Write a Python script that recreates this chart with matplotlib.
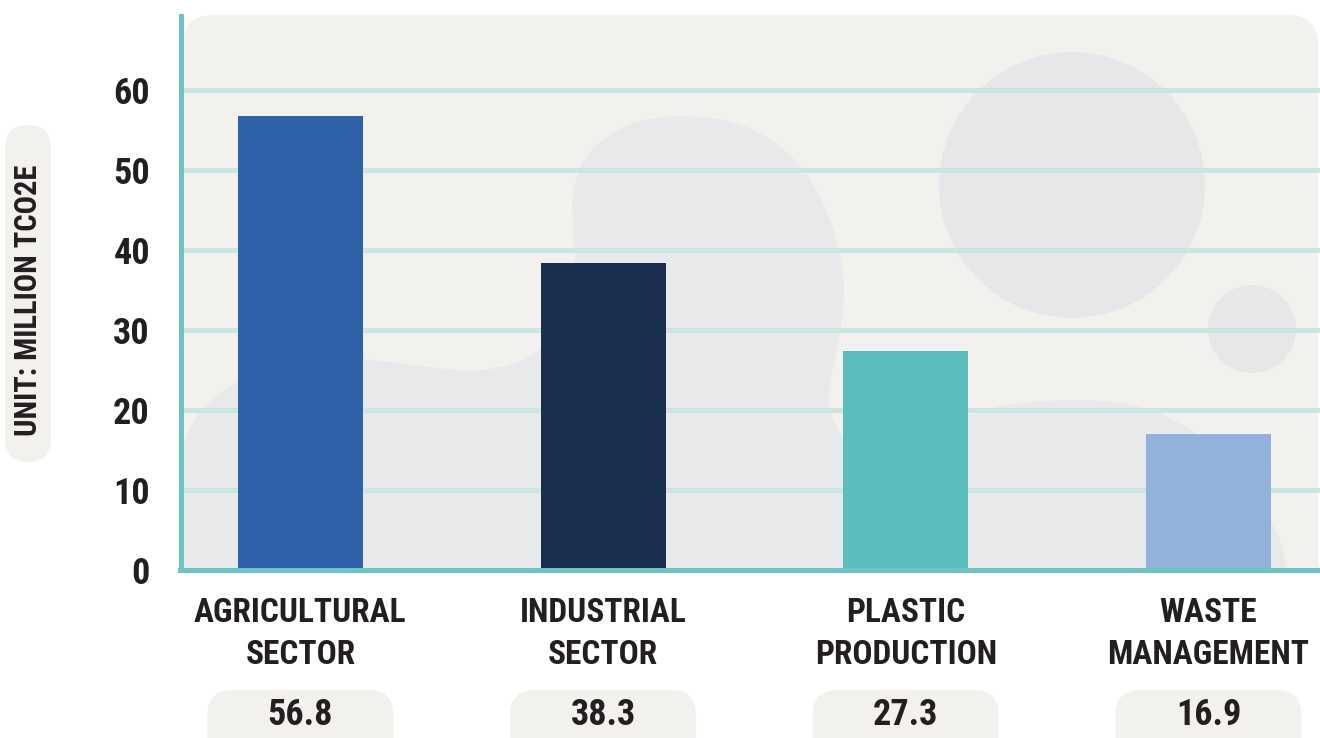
import matplotlib
matplotlib.use("Agg")
import matplotlib.pyplot as plt
import matplotlib.transforms as mtransforms
from matplotlib.patches import FancyBboxPatch, Polygon, Circle

# data
categories = ["AGRICULTURAL\nSECTOR", "INDUSTRIAL\nSECTOR", "PLASTIC\nPRODUCTION", "WASTE\nMANAGEMENT"]
values = [56.8, 38.3, 27.3, 16.9]
value_labels = ["56.8", "38.3", "27.3", "16.9"]
bar_colors = ["#2f62a8", "#1a2e50", "#5cbdbd", "#93b2db"]
yticks = [0, 10, 20, 30, 40, 50, 60]

W, H = 1320, 738
plt.rcParams['font.family'] = ['Liberation Sans Narrow', 'Roboto Condensed', 'Roboto', 'DejaVu Sans']
plt.rcParams['font.weight'] = 'bold'
plt.rcParams['font.stretch'] = 'condensed'
txt_color = "#231f20"
teal = "#6cc4c5"
grid_col = "#cbe5e4"
panel_col = "#f2f1ee"
blob_col = "#e8e9ea"

fig = plt.figure(figsize=(W / 100, H / 100), dpi=100)
fig.patch.set_facecolor("white")

# pixel coords (origin top-left) -> figure
pix = mtransforms.Affine2D().scale(1 / W, -1 / H).translate(0, 1) + fig.transFigure

ax = fig.add_axes([180.5 / W, 1 - 569.5 / H, (W - 180.5) / W, (569.5 - 10) / H])
ax.set_facecolor("none")
ax.set_xlim(-0.396, -0.396 + (W - 180.5) / 302.7)
ax.set_ylim(0, 70)

# background panel and decorative shapes
panel = FancyBboxPatch((183, 15), 1135, 620, boxstyle="round,pad=0,rounding_size=30",
                       transform=pix, fc=panel_col, ec="none", zorder=0.1)
ax.add_patch(panel)
blob_pts = [(183, 445), (190, 428), (200, 412), (215, 397), (232, 385), (250, 376), (275, 368),
            (300, 363), (330, 360), (360, 359), (390, 362), (420, 366), (463, 371), (485, 370),
            (505, 366), (525, 359), (540, 350), (552, 337), (563, 315), (571, 290), (575, 262),
            (574, 235), (572, 205), (575, 183), (582, 163), (595, 146), (612, 133), (635, 122),
            (655, 118), (675, 116), (700, 117), (725, 120), (750, 128), (772, 140), (792, 157),
            (808, 176), (822, 200), (833, 227), (840, 255), (844, 285), (843, 315), (838, 345),
            (832, 372), (829, 398), (832, 418), (842, 435), (858, 445), (878, 447), (905, 440),
            (935, 428), (965, 416), (1000, 406), (1040, 401), (1087, 400), (1125, 403),
            (1160, 413), (1192, 430), (1220, 452), (1245, 480), (1265, 510), (1280, 540),
            (1290, 580), (183, 580)]
ax.add_patch(Polygon(blob_pts, closed=True, transform=pix, fc=blob_col, ec="none", zorder=0.2))
ax.add_patch(Circle((1072, 185), 133, transform=pix, fc="#e6e7e9", ec="none", zorder=0.3))
ax.add_patch(Circle((1252, 329), 44, transform=pix, fc="#e6e7e9", ec="none", zorder=0.3))

x = list(range(len(values)))
ax.bar(x, values, width=0.413, color=bar_colors, zorder=2)

ax.set_axisbelow(True)
ax.set_yticks(yticks)
ax.yaxis.grid(True, color=grid_col, linewidth=3.6)
ax.xaxis.grid(False)
ax.tick_params(axis='y', length=0, pad=22, labelsize=26, labelcolor=txt_color)
ax.tick_params(axis='x', length=0, pad=20, labelsize=24, labelcolor=txt_color)
ax.set_xticks(x)
ax.set_xticklabels(categories, linespacing=1.4)

for s in ["top", "right"]:
    ax.spines[s].set_visible(False)
ax.spines["left"].set_color(teal)
ax.spines["left"].set_linewidth(3.6)
ax.spines["left"].set_bounds(0, 69.2)
ax.spines["bottom"].set_color(teal)
ax.spines["bottom"].set_linewidth(3.6)

# value pills
for xi, lab in zip(x, value_labels):
    px = ax.transData.transform((xi, 0))[0]
    ax.add_artist(FancyBboxPatch((px - 93, 690), 186, 70, boxstyle="round,pad=0,rounding_size=25",
                                 transform=pix, fc=panel_col, ec="none", clip_on=False))
    ax.text(px, 715, lab, transform=pix, ha="center", va="center", fontsize=26,
            color=txt_color, clip_on=False)

# y unit label pill
fig.add_artist(FancyBboxPatch((5, 125), 46, 337, boxstyle="round,pad=0,rounding_size=23",
                              transform=pix, fc=panel_col, ec="none"))
fig.text(28, 300, "UNIT: MILLION TCO2E", transform=pix, rotation=90, ha="center", va="center",
         fontsize=22, color=txt_color)

fig.savefig("out.png", dpi=100)
